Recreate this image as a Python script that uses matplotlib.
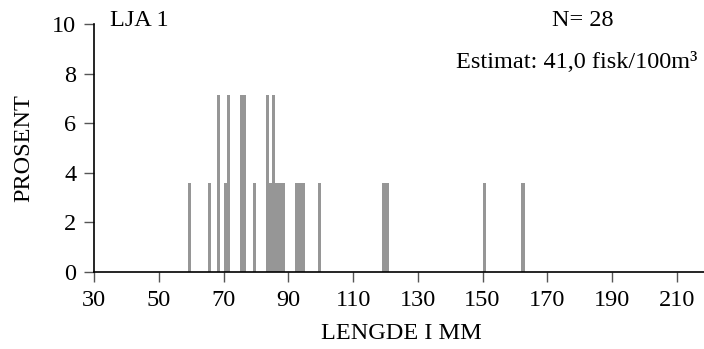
import matplotlib
matplotlib.use("Agg")
import matplotlib.pyplot as plt

plt.rcParams['font.family'] = ['Liberation Serif', 'DejaVu Serif']

# length categories (mm) and number of fish in each
lengths = [59, 65, 68, 70, 71, 75, 76, 79, 83, 84, 85, 86, 87, 88,
           92, 93, 94, 99, 119, 120, 150, 162]
counts = [1, 1, 2, 1, 2, 2, 2, 1, 2, 1, 2, 1, 1, 1,
          1, 1, 1, 1, 1, 1, 1, 1]
n_total = 28
percent = [c * 100.0 / n_total for c in counts]

xticks = [30, 50, 70, 90, 110, 130, 150, 170, 190, 210]
yticks = [0, 2, 4, 6, 8, 10]

FS = 17.5

fig = plt.figure(figsize=(7.04, 3.49), dpi=100)
ax = fig.add_axes([94.3 / 704, 1 - 271.5 / 349, (709 - 94.3) / 704, (271.5 - 24.5) / 349])

ax.bar(lengths, percent, width=1.0, align='edge', color='#969696', edgecolor='none')

ax.set_xlim(30, 220)
ax.set_ylim(0, 10)
ax.set_xticks(xticks)
ax.set_yticks(yticks)
ax.set_xticklabels([str(v) for v in xticks])
ax.set_yticklabels([str(v) for v in yticks])

for s in ['top', 'right']:
    ax.spines[s].set_visible(False)
for s in ['left', 'bottom']:
    ax.spines[s].set_color('black')
    ax.spines[s].set_linewidth(1.2)

ax.tick_params(axis='both', direction='out', length=7, width=1.0, color='#555555',
               labelsize=FS, labelcolor='black')
ax.tick_params(axis='x', pad=6)
ax.tick_params(axis='y', pad=6)

ax.set_xlabel('LENGDE I MM', fontsize=FS, labelpad=9)
ax.set_ylabel('PROSENT', fontsize=FS, labelpad=13)

fig.text(110 / 704, 1 - 21 / 349, 'LJA 1', fontsize=FS, ha='left', va='center')
fig.text(583 / 704, 1 - 21 / 349, 'N= 28', fontsize=FS, ha='center', va='center')
fig.text(697 / 704, 1 - 62 / 349, 'Estimat: 41,0 fisk/100m³', fontsize=FS,
         ha='right', va='center')

fig.savefig('out.png', dpi=100)
